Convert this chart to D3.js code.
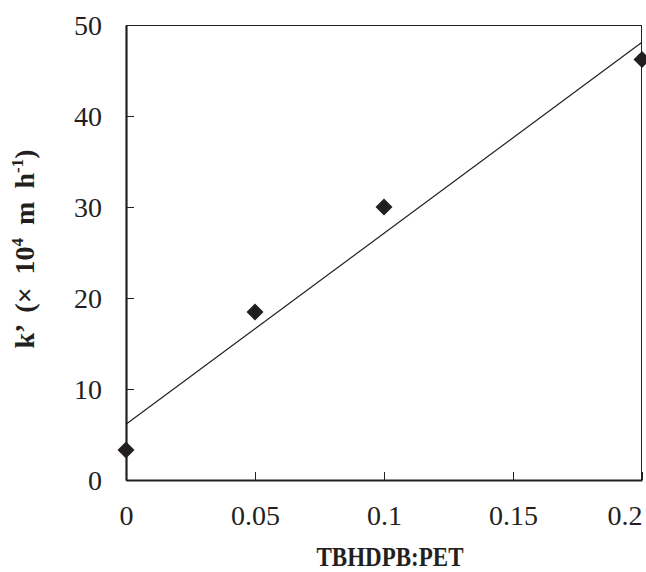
<!DOCTYPE html>
<html>
<head>
<meta charset="utf-8">
<script src="https://cdn.jsdelivr.net/npm/d3@7"></script>
<style>
  body { margin: 0; background: white; }
  svg { display: block; }
</style>
</head>
<body>
<div id="viz"></div>
<script>
// data
var ratio = [0, 0.05, 0.1, 0.2];
var kprime = [3.3, 18.45, 30.0, 46.2];
var xTicks = [0, 0.05, 0.1, 0.15, 0.2];
var yTicks = [0, 10, 20, 30, 40, 50];

var ink = '#231f20';
var serif = '"Liberation Serif", "Times New Roman", serif';

var margin = {top: 25, right: 4, bottom: 92, left: 126},
    width = 646 - margin.left - margin.right,
    height = 572 - margin.top - margin.bottom;

var svg = d3.select('#viz').append('svg')
    .attr('width', 646)
    .attr('height', 572);

var g = svg.append('g')
    .attr('transform', 'translate(' + margin.left + ',' + margin.top + ')');

var x = d3.scaleLinear().domain([0, 0.2]).range([0, width]);
var y = d3.scaleLinear().domain([0, 50]).range([height, 0]);

// thin top / right frame
g.append('line').attr('x1', 0).attr('x2', width).attr('y1', 0.5).attr('y2', 0.5)
  .attr('stroke', ink).attr('stroke-width', 1);
g.append('line').attr('x1', width - 0.5).attr('x2', width - 0.5).attr('y1', 0).attr('y2', height)
  .attr('stroke', ink).attr('stroke-width', 1);

// x axis
var xAxis = g.append('g')
    .attr('transform', 'translate(0,' + height + ')')
    .call(d3.axisBottom(x).tickValues(xTicks).tickSizeInner(-8).tickSizeOuter(0)
      .tickFormat(function(d){ return d === 0 ? '0' : d3.format('')(d); }));
xAxis.select('.domain').attr('stroke', ink).attr('stroke-width', 2.2);
xAxis.selectAll('line').attr('stroke', ink).attr('stroke-width', 1);
xAxis.selectAll('text')
    .attr('y', 45)
    .attr('dy', 0)
    .style('font-family', serif)
    .style('font-size', '28px')
    .attr('fill', ink)
    .attr('text-anchor', function(d){ return d === 0.2 ? 'end' : 'middle'; });

// y axis
var yAxis = g.append('g')
    .call(d3.axisLeft(y).tickValues(yTicks).tickSizeInner(-8).tickSizeOuter(0));
yAxis.select('.domain').attr('stroke', ink).attr('stroke-width', 2.2);
yAxis.selectAll('line').attr('stroke', ink).attr('stroke-width', 1);
yAxis.selectAll('text')
    .attr('x', -24)
    .attr('dy', '0.34em')
    .style('font-family', serif)
    .style('font-size', '28px')
    .attr('fill', ink);

// least squares trend line through the points
var mx = d3.mean(ratio), my = d3.mean(kprime);
var sxy = d3.sum(ratio, function(d, i){ return (d - mx) * (kprime[i] - my); });
var sxx = d3.sum(ratio, function(d){ return (d - mx) * (d - mx); });
var slope = sxy / sxx, intercept = my - slope * mx;
var fit = x.domain().map(function(d){ return [d, intercept + slope * d]; });

g.append('path')
    .datum(fit)
    .attr('fill', 'none')
    .attr('stroke', ink)
    .attr('stroke-width', 1.2)
    .attr('d', d3.line()
      .x(function(d){ return x(d[0]); })
      .y(function(d){ return y(d[1]); }));

// diamonds
g.selectAll('.pt')
    .data(ratio)
    .enter().append('path')
    .attr('class', 'pt')
    .attr('fill', ink)
    .attr('transform', function(d, i){ return 'translate(' + x(d) + ',' + y(kprime[i]) + ')'; })
    .attr('d', 'M0,-8.5L8.5,0L0,8.5L-8.5,0Z');

// axis titles
svg.append('text')
    .attr('x', 390)
    .attr('y', 566)
    .attr('text-anchor', 'middle')
    .attr('textLength', 147)
    .attr('lengthAdjust', 'spacingAndGlyphs')
    .style('font-family', serif)
    .style('font-size', '28px')
    .style('font-weight', 'bold')
    .attr('fill', ink)
    .text('TBHDPB:PET');

var yt = svg.append('text')
    .attr('transform', 'translate(34,249) rotate(-90)')
    .attr('text-anchor', 'middle')
    .style('font-family', serif)
    .style('font-size', '28px')
    .style('font-weight', 'bold')
    .style('word-spacing', '6px')
    .attr('fill', ink);
yt.append('tspan').text('k’ (× 10');
yt.append('tspan').attr('dy', -11).style('font-size', '17px').text('4');
yt.append('tspan').attr('dy', 11).text(' m h');
yt.append('tspan').attr('dy', -11).style('font-size', '17px').text('-1');
yt.append('tspan').attr('dy', 11).text(')');
</script>
</body>
</html>
